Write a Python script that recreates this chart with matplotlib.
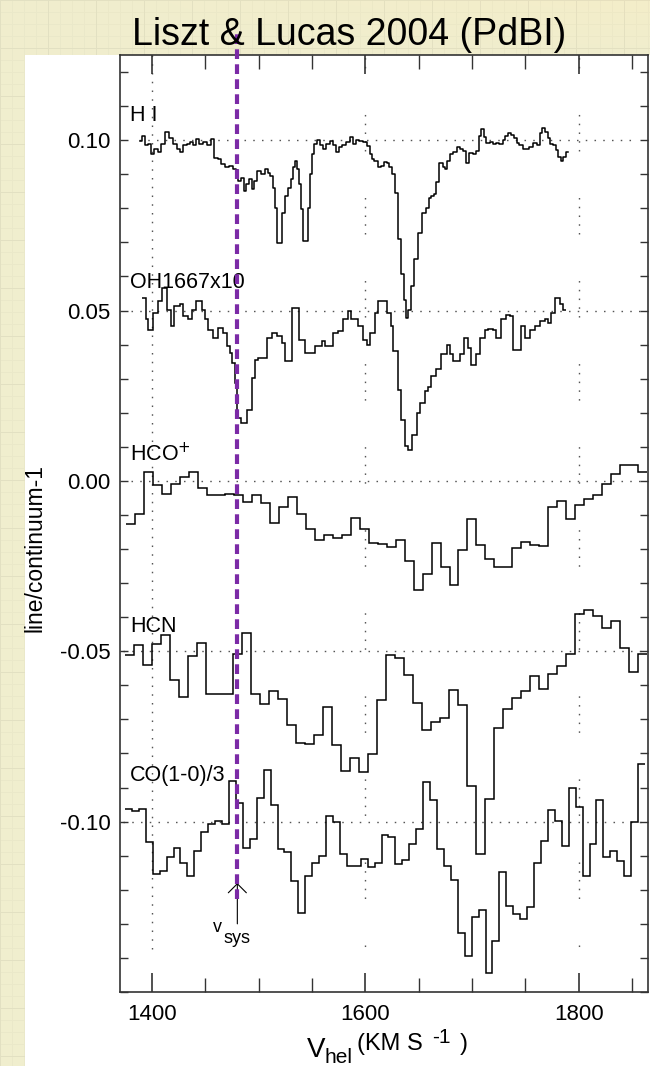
import numpy as np
import matplotlib
matplotlib.use("Agg")
import matplotlib.pyplot as plt
from matplotlib.patches import Rectangle
from matplotlib.ticker import MultipleLocator, FixedLocator, FormatStrFormatter

plt.rcParams['font.family'] = ['Liberation Sans', 'DejaVu Sans']
plt.rcParams['axes.unicode_minus'] = False
plt.rcParams['lines.scale_dashes'] = False

# HI absorption (offset +0.10)
hi_vel = [1389, 1392, 1395, 1398, 1400, 1404, 1407, 1410, 1414, 1418, 1422, 1425, 1428, 1431,
          1434, 1437, 1440, 1442, 1446, 1450, 1453, 1457, 1460, 1463, 1466, 1470, 1474, 1477,
          1480, 1482, 1485, 1487, 1490, 1492, 1495, 1497, 1500, 1504, 1507, 1510, 1512, 1514,
          1516, 1518, 1521, 1523, 1526, 1529, 1531, 1533, 1535, 1537, 1539, 1541, 1543, 1545.5,
          1547, 1549, 1551, 1553, 1556, 1559, 1562, 1565, 1568, 1571, 1574, 1577, 1580, 1584,
          1587, 1590, 1593, 1596, 1600, 1603, 1605, 1607, 1610, 1613, 1616, 1619, 1621, 1624,
          1626, 1629, 1632, 1635, 1637.5, 1639, 1641.5, 1644, 1647, 1651, 1655.5, 1658, 1660.5,
          1663, 1665, 1668, 1671, 1674, 1676, 1678, 1681, 1684, 1687, 1690, 1693, 1696, 1699,
          1702, 1705.5, 1707, 1710, 1712, 1715, 1718, 1721, 1724, 1727.5, 1730, 1732, 1735,
          1738, 1741, 1743, 1746, 1749, 1752, 1755, 1759, 1762, 1765, 1767, 1770, 1772, 1774,
          1777, 1780, 1782, 1784, 1787, 1790]
hi_val = [0.0998, 0.1013, 0.0985, 0.0990, 0.0959, 0.0974, 0.0965, 0.0990, 0.1023, 0.1005,
          0.0990, 0.0975, 0.0964, 0.0985, 0.0990, 0.0995, 0.0985, 0.1003, 0.0990, 0.0995,
          0.0985, 0.1003, 0.0949, 0.0945, 0.0930, 0.0920, 0.0925, 0.0915, 0.0912, 0.0880,
          0.0890, 0.0851, 0.0870, 0.0885, 0.0856, 0.0880, 0.0910, 0.0900, 0.0915, 0.0905,
          0.0895, 0.0860, 0.0800, 0.0699, 0.0699, 0.0787, 0.0836, 0.0860, 0.0885, 0.0920,
          0.0939, 0.0915, 0.0870, 0.0797, 0.0704, 0.0704, 0.0800, 0.0900, 0.0960, 0.0988,
          0.1000, 0.0985, 0.0974, 0.0990, 0.0998, 0.0985, 0.0964, 0.0980, 0.0985, 0.0995,
          0.1008, 0.0990, 0.1000, 0.0998, 0.0995, 0.0983, 0.0960, 0.0944, 0.0940, 0.0920,
          0.0925, 0.0935, 0.0934, 0.0920, 0.0900, 0.0846, 0.0709, 0.0606, 0.0532, 0.0479,
          0.0503, 0.0571, 0.0650, 0.0728, 0.0787, 0.0800, 0.0831, 0.0835, 0.0841, 0.0876,
          0.0934, 0.0920, 0.0915, 0.0940, 0.0959, 0.0965, 0.0979, 0.0975, 0.0969, 0.0934,
          0.0963, 0.0960, 0.0969, 0.1013, 0.1034, 0.1010, 0.0993, 0.0995, 0.0990, 0.0992,
          0.0988, 0.1000, 0.1013, 0.1020, 0.1015, 0.1005, 0.0993, 0.0985, 0.0974, 0.0975,
          0.0980, 0.0993, 0.0985, 0.1020, 0.1037, 0.1025, 0.1005, 0.0988, 0.0985, 0.0970,
          0.0950, 0.0939, 0.0950, 0.0964]

# OH 1667 x10 (offset +0.05), channel edges and values
oh_edges = [1390.4, 1394.1, 1396.6, 1401.2, 1405.9, 1409.1, 1413.8, 1417.5, 1420.6, 1426.2,
            1429.3, 1434.0, 1437.2, 1441.2, 1446.6, 1449.6, 1452.7, 1457.4, 1462.1, 1466.8,
            1470.0, 1473.1, 1474.7, 1477.8, 1479.9, 1483.5, 1488.7, 1493.4, 1496.5, 1499.6,
            1507.4, 1512.1, 1516.8, 1521.5, 1524.6, 1530.9, 1538.0, 1543.3, 1552.7, 1559.0,
            1562.1, 1569.8, 1574.5, 1579.2, 1583.9, 1587.0, 1593.3, 1598.0, 1601.1, 1604.2,
            1608.9, 1612.0, 1619.9, 1624.5, 1626.1, 1630.8, 1633.9, 1637.0, 1640.2, 1643.9,
            1648.0, 1651.0, 1655.7, 1658.8, 1662.0, 1666.7, 1671.4, 1676.1, 1679.2, 1682.3,
            1688.5, 1692.6, 1696.3, 1699.5, 1704.2, 1707.3, 1711.9, 1715.0, 1719.7, 1722.9,
            1727.6, 1732.3, 1735.4, 1738.5, 1746.3, 1749.4, 1754.1, 1758.8, 1763.5, 1768.2,
            1771.2, 1774.4, 1777.5, 1782.2, 1785.3, 1788.5]
oh_val = [0.0537, 0.0474, 0.0444, 0.0493, 0.0527, 0.0567, 0.0503, 0.0454, 0.0513, 0.0518,
          0.0483, 0.0474, 0.0503, 0.0527, 0.0503, 0.0474, 0.0444, 0.0420, 0.0449, 0.0434,
          0.0395, 0.0376, 0.0346, 0.0287, 0.0184, 0.0170, 0.0209, 0.0302, 0.0356, 0.0361,
          0.0420, 0.0434, 0.0424, 0.0405, 0.0351, 0.0508, 0.0415, 0.0376, 0.0395, 0.0410,
          0.0395, 0.0434, 0.0440, 0.0474, 0.0498, 0.0474, 0.0454, 0.0415, 0.0400, 0.0434,
          0.0493, 0.0527, 0.0493, 0.0454, 0.0380, 0.0268, 0.0179, 0.0101, 0.0091, 0.0135,
          0.0199, 0.0228, 0.0263, 0.0277, 0.0307, 0.0329, 0.0371, 0.0400, 0.0371, 0.0351,
          0.0371, 0.0420, 0.0390, 0.0341, 0.0371, 0.0420, 0.0444, 0.0446, 0.0444, 0.0420,
          0.0474, 0.0488, 0.0483, 0.0385, 0.0454, 0.0420, 0.0444, 0.0454, 0.0469, 0.0474,
          0.0464, 0.0493, 0.0537, 0.0518, 0.0503]

# HCO+ (offset 0), first channel edge and width in km/s
hco_v0, hco_dv = 1375.8, 8.42
hco_val = [-0.0125, -0.0096, 0.0027, -0.0013, -0.0039, -0.0008, 0.0012, 0.0027, -0.0022, -0.0042,
           -0.0040, -0.0039, -0.0041, -0.0062, -0.0042, -0.0066, -0.0123, -0.0076, -0.0046, -0.0096,
           -0.0140, -0.0174, -0.0160, -0.0169, -0.0160, -0.0108, -0.0142, -0.0181, -0.0185, -0.0194,
           -0.0172, -0.0235, -0.0319, -0.0274, -0.0183, -0.0254, -0.0306, -0.0203, -0.0111, -0.0189,
           -0.0228, -0.0254, -0.0252, -0.0196, -0.0179, -0.0189, -0.0190, -0.0076, -0.0059, -0.0111,
           -0.0071, -0.0052, -0.0042, -0.0010, 0.0020, 0.0046, 0.0046, 0.0027]

# HCN (offset -0.05)
hcn_v0, hcn_dv = 1374.7, 8.43
hcn_val = [-0.0512, -0.0482, -0.0541, -0.0478, -0.0453, -0.0583, -0.0634, -0.0515, -0.0477, -0.0624,
           -0.0626, -0.0624, -0.0507, -0.0446, -0.0624, -0.0656, -0.0618, -0.0639, -0.0715, -0.0770,
           -0.0771, -0.0747, -0.0664, -0.0774, -0.0852, -0.0814, -0.0855, -0.0801, -0.0644, -0.0512,
           -0.0521, -0.0571, -0.0652, -0.0730, -0.0707, -0.0695, -0.0615, -0.0657, -0.0894, -0.1095,
           -0.0933, -0.0725, -0.0669, -0.0636, -0.0617, -0.0573, -0.0610, -0.0566, -0.0544, -0.0507,
           -0.0391, -0.0379, -0.0397, -0.0433, -0.0412, -0.0490, -0.0561, -0.0507]

# CO(1-0)/3 (offset -0.10)
co_v0, co_dv = 1374.7, 6.5
co_val = [-0.0963, -0.0970, -0.0963, -0.1061, -0.1154, -0.1144, -0.1105, -0.1076, -0.1120, -0.1159,
          -0.1085, -0.1031, -0.1007, -0.0997, -0.1007, -0.0882, -0.0944, -0.1076, -0.1052, -0.0931,
          -0.0848, -0.0950, -0.1080, -0.1090, -0.1174, -0.1267, -0.1159, -0.1120, -0.1100, -0.0982,
          -0.1000, -0.1095, -0.1131, -0.1131, -0.1110, -0.1134, -0.1120, -0.1039, -0.1046, -0.1124,
          -0.1113, -0.1066, -0.1022, -0.0885, -0.0936, -0.1080, -0.1130, -0.1172, -0.1327, -0.1394,
          -0.1281, -0.1260, -0.1443, -0.1350, -0.1149, -0.1247, -0.1272, -0.1287, -0.1250, -0.1120,
          -0.1058, -0.0966, -0.0998, -0.1071, -0.0901, -0.0958, -0.1159, -0.1066, -0.0936, -0.1105,
          -0.1085, -0.1115, -0.1159, -0.1000, -0.0830]

baselines = [0.10, 0.05, 0.00, -0.05, -0.10]
base_start = [1388, 1380, 1380, 1373, 1373]
base_stop = [1849, 1865, 1865, 1865, 1865]
labels = ['H I', 'OH1667x10', 'HCO$^{+}$', 'HCN', 'CO(1-0)/3']
label_y = [0.1056, 0.0567, 0.0057, -0.0443, -0.0880]
v_sys = 1480

W, H = 650, 1066


def fpx(x, y):
    # pixel position (from top-left) -> figure fraction
    return x / W, 1 - y / H


fig = plt.figure(figsize=(W / 100, H / 100), dpi=100)

# graph-paper backdrop
yy, xx = np.mgrid[0:H, 0:W]
bg = np.empty((H, W, 3))
warm = np.clip(1 - yy / 60.0, 0, 1)[..., None] * np.clip(xx / W, 0, 1)[..., None]
bg[:] = np.array([240, 238, 206]) / 255
bg = bg * (1 - 0.5 * warm) + 0.5 * warm * np.array([248, 236, 196]) / 255
minor = ((xx % 12) == 0) | ((yy % 12) == 0)
major = ((xx % 48) == 0) | ((yy % 48) == 0)
bg[minor] *= 0.978
bg[major] *= 0.965
bg_ax = fig.add_axes([0, 0, 1, 1], zorder=-10)
bg_ax.imshow(bg, aspect='auto', interpolation='nearest')
bg_ax.axis('off')

fig.add_artist(Rectangle(fpx(25, H), 625 / W, 1 - 55 / H, transform=fig.transFigure,
                         facecolor='white', edgecolor='none', zorder=-5))

ax = fig.add_axes([120 / W, 1 - 992 / H, 528 / W, 937 / H])
ax.set_facecolor('white')
ax.set_xlim(1370, 1865)
ax.set_ylim(-0.15, 0.125)

# dotted reference lines
dot = (0, (1.1, 5.2))
for b, x0, x1 in zip(baselines, base_start, base_stop):
    ax.plot([x0, x1], [b, b], color='#555555', lw=1.0, linestyle=dot, zorder=1)
seg_dots = (17, (1.1, 5.2, 1.1, 5.2, 1.1, 5.2, 1.1, 5.2, 1.1, 33.5))
ax.plot([1400, 1400], [0.125, -0.1385], color='#555555', lw=1.0, linestyle=dot, zorder=1)
for v in (1600, 1800):
    ax.plot([v, v], [0.125, -0.1385], color='#555555', lw=1.0, linestyle=seg_dots, zorder=1)

# spectra
ax.plot(hi_vel, hi_val, color='black', lw=1.1, drawstyle='steps-mid', zorder=3)
ax.stairs(oh_val, oh_edges, color='black', lw=1.1, baseline=None, zorder=3)
for v0, dv, vals in [(hco_v0, hco_dv, hco_val), (hcn_v0, hcn_dv, hcn_val), (co_v0, co_dv, co_val)]:
    edges = v0 + dv * np.arange(len(vals) + 1)
    ax.stairs(vals, edges, color='black', lw=1.1, baseline=None, zorder=3)

for lab, ly in zip(labels, label_y):
    ax.text(1379.5, ly, lab, fontsize=15.5, ha='left', va='baseline', zorder=4)

# systemic velocity marker
ax.plot([v_sys, v_sys], [-0.1226, 0.1324], color='#7b2aa6', lw=3.0,
        linestyle=(0, (7.0, 3.8)), clip_on=False, zorder=5)
ax.annotate('', xy=(v_sys, -0.1180), xytext=(v_sys, -0.1300),
            arrowprops=dict(arrowstyle='->,head_length=0.5,head_width=0.5',
                            lw=0.8, color='black', mutation_scale=13,
                            shrinkA=0, shrinkB=0), zorder=4)
fig.text(*fpx(213, 932), 'v', fontsize=13, ha='left', va='baseline')
fig.text(*fpx(223, 943), 'sys', fontsize=13, ha='left', va='baseline')

# axes styling
for s in ax.spines.values():
    s.set_color('#333333')
    s.set_linewidth(1.2)
ax.xaxis.set_major_locator(MultipleLocator(200))
ax.xaxis.set_minor_locator(MultipleLocator(50))
ax.yaxis.set_major_locator(FixedLocator(baselines))
ax.yaxis.set_minor_locator(MultipleLocator(0.01))
ax.yaxis.set_major_formatter(FormatStrFormatter('%.2f'))
ax.tick_params(axis='both', which='both', direction='in', top=True, right=True,
               color='#333333', labelsize=16)
ax.tick_params(axis='x', which='major', length=13.5, width=1.2, pad=9)
ax.tick_params(axis='x', which='minor', length=10, width=1.0)
ax.tick_params(axis='y', which='both', length=5.8, width=1.0, pad=7)

fig.text(*fpx(35, 548), 'line/continuum-1', fontsize=16.5, rotation=90,
         ha='center', va='center')

# x-axis label pieces
fig.text(*fpx(307, 1057), 'V', fontsize=20, ha='left', va='baseline')
fig.text(*fpx(325, 1063), 'hel', fontsize=15, ha='left', va='baseline')
fig.text(*fpx(357, 1050), '(KM S', fontsize=17, ha='left', va='baseline')
fig.text(*fpx(432, 1043), '-1', fontsize=15, ha='left', va='baseline')
fig.text(*fpx(460, 1050), ')', fontsize=17, ha='left', va='baseline')

fig.text(*fpx(349, 45), 'Liszt & Lucas 2004 (PdBI)', fontsize=27,
         ha='center', va='baseline')

fig.savefig('out.png', dpi=100)
